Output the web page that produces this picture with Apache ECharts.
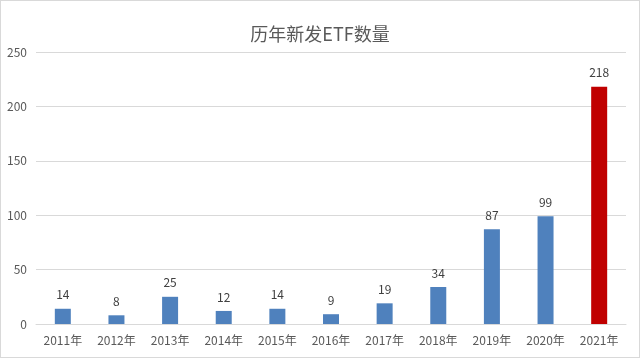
<!DOCTYPE html>
<html><head><meta charset="utf-8">
<script src="https://cdn.jsdelivr.net/npm/echarts@6/dist/echarts.min.js"></script>
<style>
html,body{margin:0;padding:0;background:#fff;}
#c{width:638px;height:356px;border:1px solid #d9d9d9;}
</style></head>
<body><div id="c"></div>
<script>
const title = '历年新发ETF数量';
const categories = ['2011年','2012年','2013年','2014年','2015年','2016年','2017年','2018年','2019年','2020年','2021年'];
const values = [14, 8, 25, 12, 14, 9, 19, 34, 87, 99, 218];
const highlightIndex = 10;
const yTicks = [0, 50, 100, 150, 200, 250];

const font = '"Noto Sans CJK SC", "Microsoft YaHei", sans-serif';
const chart = echarts.init(document.getElementById('c'));
chart.setOption({
  animation: false,
  textStyle: { fontFamily: font },
  title: {
    text: title, left: 'center', top: 19,
    textStyle: { fontSize: 18, fontWeight: 'normal', color: '#595959', fontFamily: font }
  },
  grid: { left: 35, right: 13, top: 51, bottom: 33 },
  xAxis: {
    type: 'category', data: categories,
    axisLine: { lineStyle: { color: '#d9d9d9' } },
    axisTick: { show: false },
    axisLabel: { color: '#595959', fontSize: 12, margin: 10, fontFamily: font }
  },
  yAxis: {
    type: 'value', min: yTicks[0], max: yTicks[yTicks.length - 1], interval: 50,
    axisLine: { show: false }, axisTick: { show: false },
    splitLine: { lineStyle: { color: '#d9d9d9' } },
    axisLabel: { color: '#595959', fontSize: 12, margin: 9, fontFamily: font }
  },
  series: [{
    type: 'bar', barWidth: 16,
    data: values.map((v, i) => ({ value: v, itemStyle: { color: i === highlightIndex ? '#C00000' : '#4F81BD' } })),
    label: { show: true, position: 'top', distance: 8, color: '#404040', fontSize: 12, fontFamily: font }
  }]
});
</script></body></html>
